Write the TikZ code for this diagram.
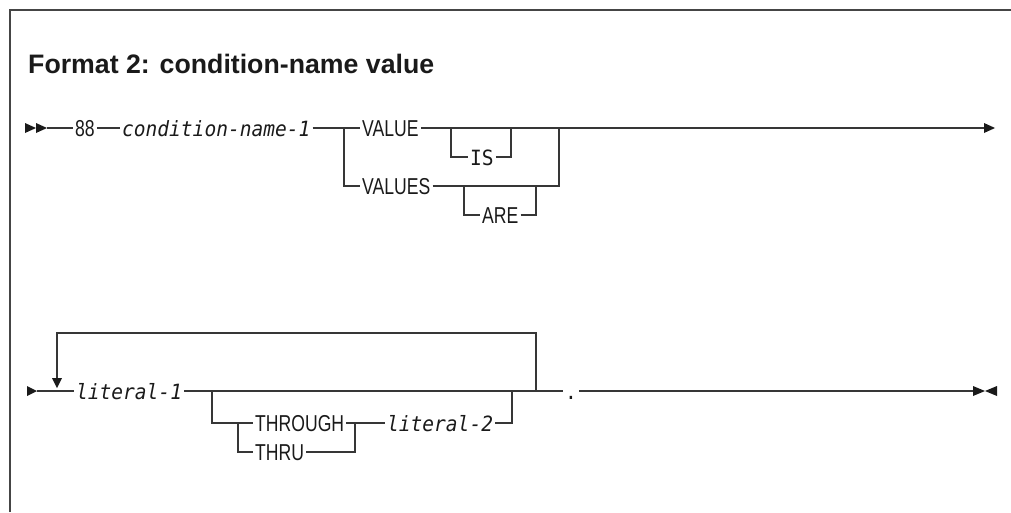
\documentclass[tikz,border=0pt]{standalone}
\usepackage{fontspec}
\setmainfont{Liberation Sans}
\newfontfamily\kwfont{Liberation Sans}[FakeStretch=0.765]
\newfontfamily\monofont{DejaVu Sans Mono}[FakeStretch=0.93]
\newfontfamily\varfont{DejaVu Sans Mono Oblique}[FakeStretch=0.93]
\definecolor{lncol}{HTML}{363636}
\definecolor{txcol}{HTML}{1A1A1A}
\begin{document}
\begin{tikzpicture}[x=1pt,y=-1pt,
  ln/.style={draw=lncol,line width=1.5pt},
  frm/.style={draw=lncol!80!gray,line width=1.6pt},
  tip/.style={fill=txcol,draw=none},
  txt/.style={inner xsep=2pt,inner ysep=0pt,text height=16.5pt,text depth=0pt,anchor=west,text=txcol},
  kw/.style={txt,font=\kwfont\fontsize{23}{23}\selectfont},
  mkw/.style={txt,font=\monofont\fontsize{21}{21}\selectfont},
  var/.style={txt,font=\varfont\fontsize{21}{21}\selectfont},
  ttl/.style={anchor=base west,inner sep=0pt,text=txcol,font=\bfseries\fontsize{26.7}{27}\selectfont}]
\useasboundingbox (0,0) rectangle (1011,512);
% frame
\draw[frm] (10,512) -- (10,10) -- (1011,10);
% title
\node[ttl] (title) at (28,73) {Format 2: condition-name value};

% ---------- row 1 ----------
\fill[tip] (25,123) -- (36,128) -- (25,133) -- cycle;
\fill[tip] (36,123) -- (47,128) -- (36,133) -- cycle;
\coordinate (s1) at (47,128);
\node[kw] (n88) at (73,128) {88};
\node[var] (cn) at (120,128) {condition-name-1};
\coordinate (j1) at (344,128);
\node[kw] (value) at (360,128) {VALUE};
\node[kw] (values) at (360,186) {VALUES};
\coordinate (isL) at (451,128);
\coordinate (isR) at (511,128);
\node[mkw] (is) at (468,157) {IS};
\coordinate (areL) at (464,186);
\coordinate (areR) at (536,186);
\node[kw] (are) at (480,215) {ARE};
\coordinate (j2) at (559,128);
\coordinate (e1) at (984,128);

\draw[ln] (s1) -- (n88.west);
\draw[ln] (n88.east) -- (cn.west);
\draw[ln] (cn.east) -- (j1) -- (value.west);
\draw[ln] (j1) |- (values.west);
\draw[ln] (value.east) -- (j2) -- (e1);
\draw[ln] (isL) |- (is.west);
\draw[ln] (is.east) -| (isR);
\draw[ln] (values.east) -| (j2);
\draw[ln] (areL) |- (are.west);
\draw[ln] (are.east) -| (areR);
\fill[tip] (e1) ++(0,-5) -- ++(11,5) -- ++(-11,5) -- cycle;

% ---------- row 2 ----------
\fill[tip] (27,386) -- (37,391) -- (27,396) -- cycle;
\coordinate (s2) at (37,391);
\node[var] (lit1) at (74,391) {literal-1};
\coordinate (lpTip) at (57,388);
\coordinate (lpTop) at (57,378);
\coordinate (lpR) at (536,391);
\coordinate (brL) at (212,391);
\coordinate (brR) at (512,391);
\coordinate (chL) at (238,423);
\coordinate (chR) at (355,423);
\node[kw] (through) at (253,423) {THROUGH};
\node[kw] (thru) at (253,452) {THRU};
\node[var] (lit2) at (385,423) {literal-2};
\node[mkw,inner xsep=2pt] (dot) at (563,391) {.};
\coordinate (e2) at (973,391);

\draw[ln] (s2) -- (lit1.west);
\draw[ln] (lpTop) -- ++(0,-45) -| (lpR);
\fill[tip] (lpTip) -- ++(-5,-10) -- ++(10,0) -- cycle;
\draw[ln] (lit1.east) -- (lpR) -- (dot.west);
\draw[ln] (brL) |- (through.west);
\draw[ln] (chL) |- (thru.west);
\draw[ln] (thru.east) -| (chR);
\draw[ln] (through.east) -- (chR) -- (lit2.west);
\draw[ln] (lit2.east) -| (brR);
\draw[ln] (dot.east) -- (e2);
\fill[tip] (e2) ++(0,-5) -- ++(12,5) -- ++(-12,5) -- cycle;
\fill[tip] (997,386) -- (985,391) -- (997,396) -- cycle;
\end{tikzpicture}
\end{document}
